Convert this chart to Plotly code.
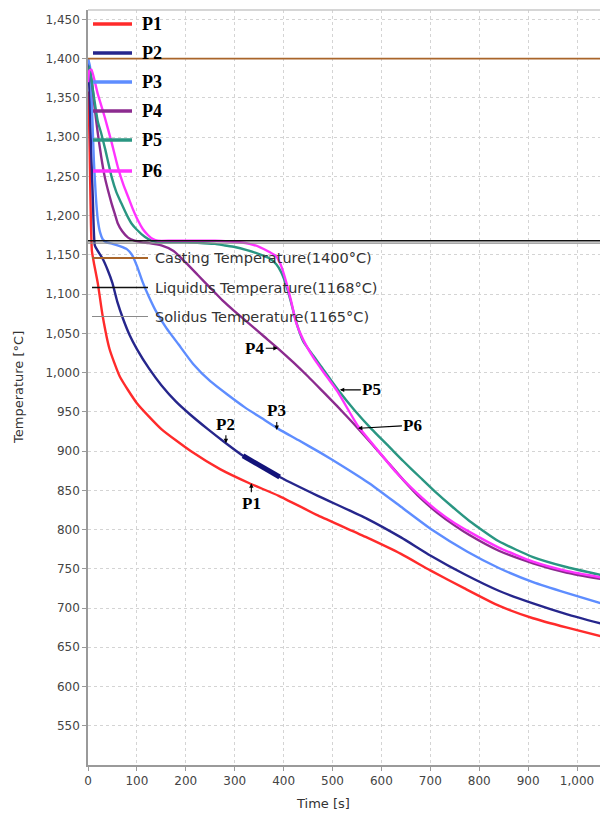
import plotly.graph_objects as go

# ---------------- data ----------------
t_p1 = [0, 2, 4, 6, 8, 12, 20, 30, 44, 65, 100, 150, 210, 270, 330, 390, 470, 570, 640, 700, 770, 840, 910, 980, 1050]
T_p1 = [1358, 1330, 1260, 1190, 1155, 1140, 1114, 1072, 1030, 995, 961, 928, 900, 877, 859, 843, 818, 790, 769, 748,
        725, 703, 687, 675, 664]

t_p2 = [0, 3, 6, 10, 14, 20, 30, 40, 50, 60, 72, 85, 100, 125, 150, 180, 210, 245, 280, 317, 355, 392, 470, 570, 640,
        700, 770, 840, 910, 980, 1050]
T_p2 = [1400, 1360, 1290, 1220, 1162, 1155, 1145, 1131, 1114, 1090, 1068, 1048, 1030, 1005, 984, 963, 946, 928, 911,
        894, 880, 867, 843, 814, 790, 767, 743, 722, 706, 692, 680]

t_p3 = [0, 4, 8, 12, 16, 20, 25, 30, 38, 50, 65, 80, 90, 100, 112, 125, 140, 160, 185, 215, 250, 285, 320, 355, 390,
        430, 475, 520, 575, 640, 705, 775, 840, 910, 980, 1050]
T_p3 = [1400, 1390, 1340, 1270, 1225, 1195, 1178, 1170, 1166, 1164, 1161, 1157, 1150, 1136, 1115, 1096, 1077, 1057,
        1036, 1011, 989, 972, 956, 942, 928, 914, 898, 881, 859, 829, 799, 772, 751, 733, 719, 706]

t_p4 = [0, 3, 8, 14, 20, 27, 34, 41, 48, 55, 61, 70, 82, 95, 110, 125, 150, 175, 200, 225, 250, 275, 300, 330, 360,
        390, 420, 450, 480, 510, 540, 575, 610, 645, 680, 715, 750, 780, 840, 910, 980, 1050]
T_p4 = [1380, 1388, 1370, 1335, 1305, 1275, 1250, 1232, 1216, 1202, 1190, 1180, 1172, 1168, 1166, 1165, 1162, 1155,
        1140, 1124, 1108, 1092, 1078, 1062, 1046, 1030, 1013, 995, 976, 957, 937, 913, 888, 863, 840, 821, 805, 793,
        773, 757, 745, 737]

t_p5 = [0, 3, 10, 20, 27, 35, 48, 58, 68, 80, 89, 100, 116, 130, 145, 170, 200, 230, 260, 280, 300, 325, 350, 370,
        385, 395, 405, 415, 425, 440, 460, 480, 510, 545, 580, 615, 645, 680, 712, 745, 780, 840, 910, 980, 1050]
T_p5 = [1375, 1390, 1360, 1320, 1305, 1285, 1250, 1230, 1216, 1200, 1190, 1182, 1173, 1168, 1166, 1166, 1166, 1165,
        1164, 1162, 1160, 1156, 1151, 1146, 1138, 1128, 1112, 1090, 1066, 1040, 1022, 1005, 979, 952, 928, 906, 887,
        866, 847, 829, 811, 785, 765, 752, 742]

t_p6 = [0, 3, 7, 20, 34, 48, 61, 72, 82, 92, 102, 112, 123, 133, 143, 170, 200, 230, 260, 290, 310, 330, 351, 370,
        385, 395, 405, 415, 426, 440, 460, 480, 510, 552, 590, 630, 670, 712, 750, 780, 840, 910, 980, 1050]
T_p6 = [1370, 1385, 1386, 1355, 1326, 1294, 1262, 1240, 1224, 1208, 1194, 1183, 1175, 1170, 1168, 1168, 1168, 1168,
        1168, 1167, 1166, 1164, 1160, 1154, 1148, 1136, 1116, 1092, 1063, 1042, 1020, 1002, 976, 932, 903, 873, 848,
        825, 808, 797, 777, 759, 747, 739]

series_names = ["P1", "P2", "P3", "P4", "P5", "P6"]
series_t = [t_p1, t_p2, t_p3, t_p4, t_p5, t_p6]
series_T = [T_p1, T_p2, T_p3, T_p4, T_p5, T_p6]

ref_names = ["Casting Temperature(1400°C)", "Liquidus Temperature(1168°C)", "Solidus Temperature(1165°C)"]
ref_temps = [1400, 1168, 1165]

# label arrows: (time, temperature) point the arrow touches
label_points = {"P1": (334, 859), "P2": (282, 910), "P3": (386, 927),
                "P4": (388, 1031), "P5": (515, 978), "P6": (552, 929)}

x_ticks = list(range(0, 1001, 100))
y_ticks = list(range(550, 1451, 50))

# ---------------- styles ----------------
W, H = 600, 817
ML, MR, MT, MB = 88, 0, 10, 52
X_RANGE = [0, 1047]
Y_RANGE = [500, 1462]
colors = ["#ff2b2b", "#26268c", "#5e8dff", "#8c2b8f", "#2a9682", "#ff33ff"]
ref_colors = ["#a9652a", "#111111", "#8a8a8a"]
ref_widths = [1.8, 1.6, 1.2]
label_offsets = {"P1": (0, 20), "P2": (0, -19), "P3": (0, -19),
                 "P4": (-23, 0), "P5": (32, 0), "P6": (55, -3)}


def px(xp):
    return (xp - ML) / (W - ML - MR)


def py(yp):
    return (H - MB - yp) / (H - MT - MB)


fig = go.Figure()

for temp, col, lw in zip(ref_temps, ref_colors, ref_widths):
    fig.add_hline(y=temp, line=dict(color=col, width=lw), layer="above")

for name, t, T, col in zip(series_names, series_t, series_T, colors):
    fig.add_trace(go.Scatter(x=t, y=T, mode="lines", name=name,
                             line=dict(color=col, width=2.4, shape="spline", smoothing=0.5),
                             showlegend=False))

# thick patch on P2 as in the reference
idx = [i for i, v in enumerate(t_p2) if 317 <= v <= 392]
fig.add_trace(go.Scatter(x=[t_p2[i] for i in idx], y=[T_p2[i] for i in idx], mode="lines",
                         line=dict(color="#13137a", width=5), showlegend=False))

# legend 1 (P1..P6)
leg1_y = [24, 53, 82, 111, 140, 171]
for name, col, yy in zip(series_names, colors, leg1_y):
    fig.add_shape(type="line", xref="paper", yref="paper", x0=px(93), x1=px(132), y0=py(yy), y1=py(yy),
                  line=dict(color=col, width=3.5))
    fig.add_annotation(xref="paper", yref="paper", x=px(140), y=py(yy), text="<b>%s</b>" % name,
                       showarrow=False, xanchor="left", yanchor="middle",
                       font=dict(family="Liberation Serif", size=18, color="black"))

# legend 2 (reference temperatures)
leg2_y = [258, 287.5, 316.5]
for name, col, lw, yy in zip(ref_names, ref_colors, ref_widths, leg2_y):
    fig.add_shape(type="line", xref="paper", yref="paper", x0=px(92), x1=px(148), y0=py(yy), y1=py(yy),
                  line=dict(color=col, width=lw))
    fig.add_annotation(xref="paper", yref="paper", x=px(153), y=py(yy), text=name,
                       showarrow=False, xanchor="left", yanchor="middle",
                       font=dict(family="DejaVu Sans", size=14.5, color="#333333"))

# arrow labels on curves
for name in series_names:
    xx, yy = label_points[name]
    ax, ay = label_offsets[name]
    fig.add_annotation(x=xx, y=yy, text="<b>%s</b>" % name, showarrow=True, ax=ax, ay=ay,
                       arrowhead=2, arrowsize=0.8, arrowwidth=1.1, arrowcolor="black", standoff=0,
                       font=dict(family="Liberation Serif", size=17, color="black"))

# top border
fig.add_shape(type="line", xref="paper", yref="paper", x0=0, x1=1, y0=1, y1=1,
              line=dict(color="#c8c8c8", width=1.5))

# axis titles
fig.add_annotation(xref="paper", yref="paper", x=px(323), y=py(803), text="Time [s]", showarrow=False,
                   xanchor="center", yanchor="middle", font=dict(family="DejaVu Sans", size=13, color="#333333"))
fig.add_annotation(xref="paper", yref="paper", x=px(18), y=py(388), text="Temperature [°C]", showarrow=False,
                   textangle=-90, xanchor="center", yanchor="middle",
                   font=dict(family="DejaVu Sans", size=13, color="#333333"))

axis_common = dict(showgrid=True, gridcolor="#d4d4d4", griddash="3px,3px", gridwidth=1,
                   showline=True, linecolor="#9a9a9a", linewidth=1.6, ticks="outside", ticklen=4,
                   tickcolor="#9a9a9a", tickfont=dict(family="DejaVu Sans", size=12, color="#444444"),
                   zeroline=False, automargin=False)

fig.update_xaxes(range=X_RANGE, tickvals=x_ticks, tickformat=",", **axis_common)
fig.update_yaxes(range=Y_RANGE, tickvals=y_ticks, tickformat=",", **axis_common)

fig.update_layout(width=W, height=H, margin=dict(l=ML, r=MR, t=MT, b=MB),
                  paper_bgcolor="white", plot_bgcolor="white", showlegend=False)

fig.write_html("out.html", config={"displayModeBar": False},
               post_script="document.body.style.margin='0px';document.body.style.overflow='hidden';")
